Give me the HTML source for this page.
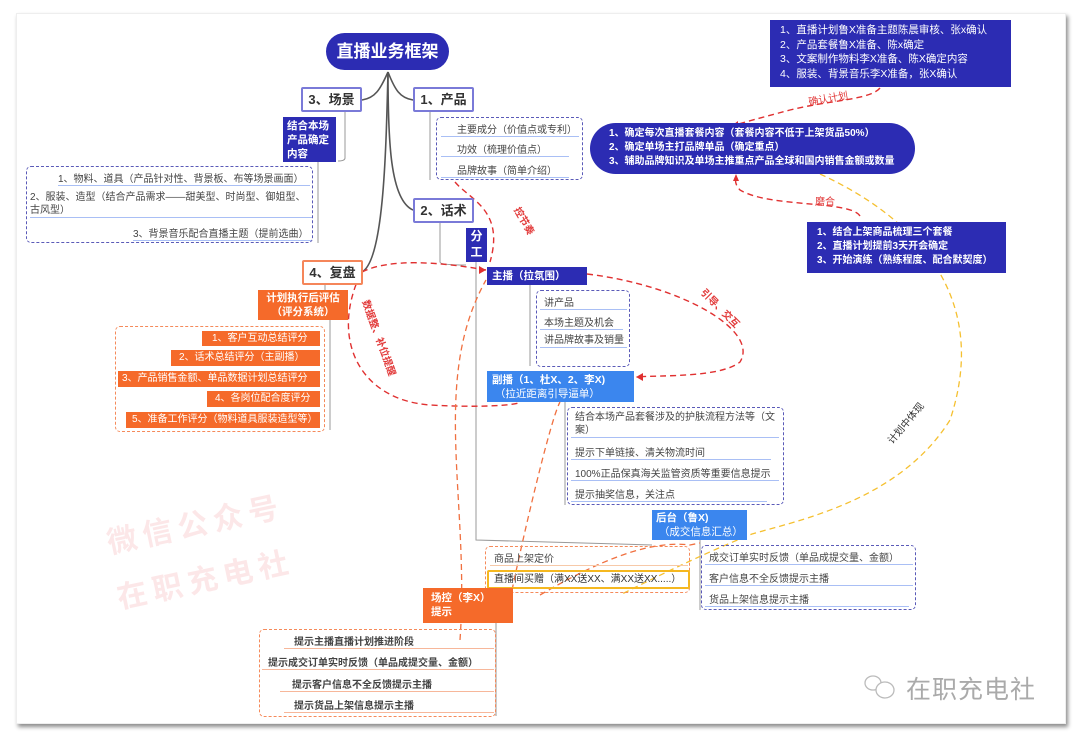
<!DOCTYPE html>
<html><head><meta charset="utf-8">
<style>
*{margin:0;padding:0;box-sizing:border-box}
body{width:1080px;height:734px;background:#fff;position:relative;overflow:hidden;font-family:"Liberation Sans","Noto Sans CJK SC",sans-serif;color:#333}
.frame{position:absolute;left:16px;top:13px;width:1050px;height:711px;background:#fff;box-shadow:2px 3px 4px rgba(0,0,0,.45);border:1px solid #eee}
.a{position:absolute;white-space:nowrap}
.db{background:#2c2cb3;color:#fff;font-weight:bold}
.lb{background:#3b86ee;color:#fff}
.or{background:#f56a2a;color:#fff}
.wb{background:#fff;border:2px solid #7a7ad8;font-weight:bold;font-size:13px;color:#333;text-align:center;line-height:21px;border-radius:2px}
.dash{border:1.5px dashed #5a5ab8;border-radius:5px}
.dasho{border:1.5px dashed #f58a5a;border-radius:5px}
.it{font-size:10px;color:#444;position:absolute;white-space:nowrap}
.ul{border-bottom:1.5px solid #a9bff5}
.ulo{border-bottom:1.5px solid #f7b79a}
.lbl{position:absolute;font-size:10px;color:#e23a3a;white-space:nowrap;font-weight:bold}
</style></head><body>
<div class="frame"></div>

<svg class="a" style="left:0;top:0" width="1080" height="734">
<g fill="none" stroke="#555" stroke-width="1.6">
<path d="M388 72 C380 90,375 98,362 100"/>
<path d="M388 72 C395 90,400 98,413 100"/>
<path d="M388 72 C388 140,390 200,413 210"/>
<path d="M388 72 C386 150,384 260,362 272"/>
</g>
<g fill="none" stroke="#999" stroke-width="1">
<path d="M345 112 V158 Q345 161 338 161"/>
<path d="M318 161 V243"/>
<path d="M430 112 V180"/>
<path d="M440 222 V262 Q440 265 466 265"/>
<path d="M476 262 V540 L652 545"/>
<path d="M530 285 V366"/>
<path d="M565 402 V505"/>
<path d="M700 540 V610"/>
<path d="M325 285 V300 Q325 305 348 305"/>
<path d="M330 320 V430"/>
<path d="M496 623 V716"/>
</g>
<g fill="none" stroke="#e03030" stroke-width="1.4" stroke-dasharray="6,4">
<path d="M880 88 C870 100,830 100,790 110 C760 118,745 122,735 125"/>
<path d="M455 182 C470 200,505 210,490 262"/>
<path d="M860 216 C850 200,770 208,740 190 C735 185,735 180,736 176"/>
<path d="M362 272 C390 258,440 262,486 270"/>
<path d="M587 274 C680 285,760 330,740 362 C720 378,660 375,636 377"/>
<path d="M360 275 C330 340,360 400,430 405 C480 408,520 405,520 402"/>
</g>
<g fill="none" stroke="#f07040" stroke-width="1.3" stroke-dasharray="6,4">
<path d="M460 640 C470 500,430 380,486 280"/>
<path d="M510 600 C520 550,550 420,560 402"/>
<path d="M540 595 C600 560,650 540,690 545 L700 543"/>
</g>
<g fill="none" stroke="#f5c030" stroke-width="1.3" stroke-dasharray="6,4">
<path d="M820 174 C920 220,990 300,950 420 C900 500,800 520,752 534 C700 555,650 580,620 595"/>
</g>
<g fill="#e03030"><path d="M730 127 l8-6 l0 7z"/><path d="M486 270 l-7-4 l0 8z"/><path d="M636 377 l7-4 l0 8z"/><path d="M736 174 l-3 7 l6 0z"/></g>
<g fill="none" stroke="#bbb" stroke-width="1.3">
<ellipse cx="873" cy="683" rx="8" ry="7"/>
<ellipse cx="885" cy="690" rx="9" ry="8" fill="#fff"/>
</g>
</svg>

<!-- root -->
<div class="a db" style="left:326px;top:33px;width:123px;height:37px;border-radius:19px;font-size:17px;text-align:center;line-height:37px">直播业务框架</div>
<div class="a wb" style="left:301px;top:87px;width:61px;height:25px">3、场景</div>
<div class="a wb" style="left:413px;top:87px;width:61px;height:25px">1、产品</div>
<div class="a wb" style="left:413px;top:198px;width:61px;height:25px">2、话术</div>
<div class="a wb" style="left:302px;top:260px;width:61px;height:25px;border-color:#f5865a">4、复盘</div>

<div class="a db" style="left:283px;top:117px;width:53px;height:45px;font-size:10.5px;line-height:14px;padding:2px 4px;white-space:normal">结合本场产品确定内容</div>

<div class="a dash" style="left:26px;top:166px;width:287px;height:77px"></div>
<div class="it ul" style="left:58px;top:170px;width:252px">1、物料、道具（产品针对性、背景板、布等场景画面）</div>
<div class="it ul" style="left:30px;top:191px;width:282px;white-space:normal;line-height:13px">2、服装、造型（结合产品需求——甜美型、时尚型、御姐型、古风型）</div>
<div class="it ul" style="left:133px;top:225px;width:178px">3、背景音乐配合直播主题（提前选曲）</div>

<div class="a dash" style="left:436px;top:117px;width:147px;height:63px"></div>
<div class="it ul" style="left:441px;top:121px;width:138px;padding-left:16px">主要成分（价值点或专利）</div>
<div class="it ul" style="left:441px;top:141px;width:128px;padding-left:16px">功效（梳理价值点）</div>
<div class="it ul" style="left:441px;top:162px;width:128px;padding-left:16px">品牌故事（简单介绍）</div>

<div class="a db" style="left:590px;top:123px;width:325px;height:51px;border-radius:26px;font-size:10px;line-height:14px;padding:4px 0 0 19px">1、确定每次直播套餐内容（套餐内容不低于上架货品50%）<br>2、确定单场主打品牌单品（确定重点）<br>3、辅助品牌知识及单场主推重点产品全球和国内销售金额或数量</div>

<div class="a db" style="left:770px;top:20px;width:241px;height:67px;font-weight:normal;font-size:10.5px;line-height:14.5px;padding:3px 0 0 10px">1、直播计划鲁X准备主题陈晨审核、张x确认<br>2、产品套餐鲁X准备、陈x确定<br>3、文案制作物料李X准备、陈X确定内容<br>4、服装、背景音乐李X准备，张X确认</div>
<div class="lbl" style="left:808px;top:90px;transform:rotate(-10deg);font-weight:normal">确认计划</div>
<div class="lbl" style="left:815px;top:193px;font-weight:normal">磨合</div>

<div class="a db" style="left:807px;top:222px;width:199px;height:51px;font-size:10px;line-height:14px;padding:4px 0 0 10px">1、结合上架商品梳理三个套餐<br>2、直播计划提前3天开会确定<br>3、开始演练（熟练程度、配合默契度）</div>

<div class="a db" style="left:466px;top:228px;width:21px;height:34px;font-size:12px;line-height:16px;text-align:center;white-space:normal">分工</div>
<div class="lbl" style="left:510px;top:213px;transform:rotate(60deg)">控节奏</div>

<div class="a db" style="left:487px;top:267px;width:100px;height:18px;font-size:10.5px;line-height:18px;padding-left:5px">主播（拉氛围）</div>
<div class="a dash" style="left:536px;top:290px;width:94px;height:77px"></div>
<div class="it ul" style="left:540px;top:294px;width:87px;padding-left:4px">讲产品</div>
<div class="it ul" style="left:540px;top:314px;width:83px;padding-left:4px">本场主题及机会</div>
<div class="it ul" style="left:540px;top:334px;width:87px;padding-left:4px;white-space:normal;line-height:13px">讲品牌故事及销量</div>
<div class="lbl" style="left:696px;top:300px;transform:rotate(45deg)">引导、交互</div>

<div class="a lb" style="left:487px;top:371px;width:147px;height:31px;font-size:10.5px;line-height:14px;padding:2px 0 0 5px"><b>副播（1、杜X、2、李X)</b><br>&nbsp;（拉近距离引导逼单）</div>
<div class="a dash" style="left:567px;top:407px;width:217px;height:98px"></div>
<div class="it ul" style="left:571px;top:411px;width:208px;padding-left:4px;white-space:normal;line-height:13px">结合本场产品套餐涉及的护肤流程方法等（文案）</div>
<div class="it ul" style="left:571px;top:444px;width:200px;padding-left:4px">提示下单链接、清关物流时间</div>
<div class="it ul" style="left:571px;top:465px;width:208px;padding-left:4px">100%正品保真海关监管资质等重要信息提示</div>
<div class="it ul" style="left:571px;top:486px;width:196px;padding-left:4px">提示抽奖信息，关注点</div>
<div class="lbl" style="left:340px;top:330px;transform:rotate(70deg)">数据整、补位提醒</div>
<div class="lbl" style="left:880px;top:415px;transform:rotate(-50deg);color:#333;font-weight:normal">计划中体现</div>

<div class="a lb" style="left:652px;top:510px;width:95px;height:30px;font-size:10.5px;line-height:14px;padding:1px 0 0 4px"><b>后台（鲁X)</b><br>&nbsp;（成交信息汇总）</div>

<div class="a dasho" style="left:485px;top:546px;width:205px;height:47px"></div>
<div class="it ul" style="left:490px;top:550px;width:198px;border-color:#f7c9a8;padding-left:4px">商品上架定价</div>
<div class="a" style="left:487px;top:570px;width:203px;height:19px;border:2px solid #f5b820;border-radius:2px;font-size:10px;line-height:15px;padding-left:5px">直播间买赠（满XX送XX、满XX送XX.....）</div>

<div class="a dash" style="left:701px;top:545px;width:215px;height:65px"></div>
<div class="it ul" style="left:705px;top:549px;width:208px;padding-left:4px">成交订单实时反馈（单品成提交量、金额）</div>
<div class="it ul" style="left:705px;top:570px;width:208px;padding-left:4px">客户信息不全反馈提示主播</div>
<div class="it ul" style="left:705px;top:591px;width:204px;padding-left:4px">货品上架信息提示主播</div>

<div class="a or" style="left:423px;top:588px;width:90px;height:35px;font-size:10.5px;line-height:14px;padding:3px 0 0 8px;font-weight:bold">场控（李X）<br>提示</div>
<div class="a dasho" style="left:259px;top:629px;width:237px;height:88px"></div>
<div class="it ulo" style="left:284px;top:633px;width:210px;font-weight:bold;padding-left:10px">提示主播直播计划推进阶段</div>
<div class="it ulo" style="left:262px;top:654px;width:232px;font-weight:bold;padding-left:6px">提示成交订单实时反馈（单品成提交量、金额）</div>
<div class="it ulo" style="left:280px;top:676px;width:214px;font-weight:bold;padding-left:12px">提示客户信息不全反馈提示主播</div>
<div class="it ulo" style="left:284px;top:697px;width:210px;font-weight:bold;padding-left:10px">提示货品上架信息提示主播</div>

<div class="a or" style="left:258px;top:290px;width:90px;height:30px;font-size:10.5px;line-height:13.5px;text-align:center;padding-top:2px;font-weight:bold">计划执行后评估<br>（评分系统）</div>
<div class="a dasho" style="left:115px;top:326px;width:210px;height:106px"></div>
<div class="a or" style="left:202px;top:331px;width:118px;height:15px;font-size:10px;line-height:15px;padding-left:10px">1、客户互动总结评分</div>
<div class="a or" style="left:171px;top:350px;width:149px;height:16px;font-size:10px;line-height:16px;padding-left:8px">2、话术总结评分（主副播）</div>
<div class="a or" style="left:118px;top:371px;width:202px;height:16px;font-size:10px;line-height:16px;padding-left:4px">3、产品销售金额、单品数据计划总结评分</div>
<div class="a or" style="left:207px;top:391px;width:113px;height:16px;font-size:10px;line-height:16px;padding-left:8px">4、各岗位配合度评分</div>
<div class="a or" style="left:126px;top:412px;width:194px;height:16px;font-size:10px;line-height:16px;padding-left:6px">5、准备工作评分（物料道具服装造型等）</div>

<div class="a" style="left:105px;top:500px;font-size:30px;color:rgba(240,120,130,.18);transform:rotate(-12deg);letter-spacing:6px;font-weight:bold">微信公众号</div>
<div class="a" style="left:115px;top:555px;font-size:30px;color:rgba(240,120,130,.18);transform:rotate(-12deg);letter-spacing:6px;font-weight:bold">在职充电社</div>

<div class="a" style="left:906px;top:670px;font-size:25px;color:#aaa;letter-spacing:1px">在职充电社</div>
</body></html>
